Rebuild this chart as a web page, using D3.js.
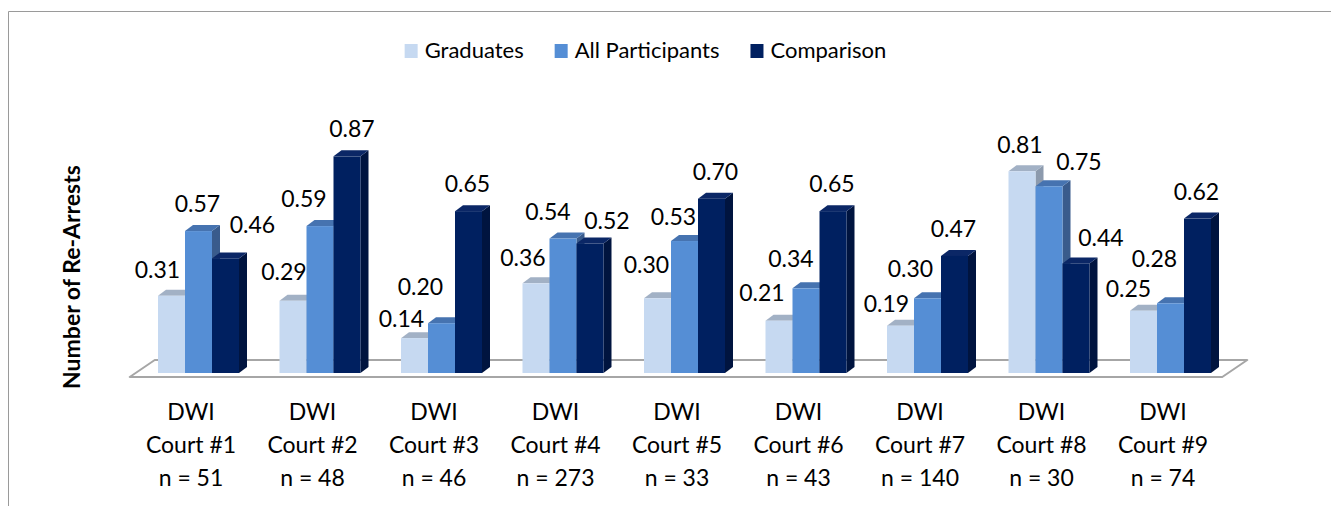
<!DOCTYPE html>
<html lang="en">
<head>
    <meta charset="UTF-8">
    <title>Number of Re-Arrests by DWI Court</title>
    <script src="https://d3js.org/d3.v7.min.js"></script>
    <style>
        body {
            margin: 0;
            background: #ffffff;
        }
        svg {
            display: block;
        }
        text {
            font-family: Lato, "Open Sans", sans-serif;
            fill: #000000;
        }
        .axis-title {
            font-size: 23px;
            font-weight: bold;
        }
        .value-label, .cat-label {
            font-size: 23px;
        }
        .legend-label {
            font-size: 22px;
        }
    </style>
</head>
<body>
    <script>
        // data
        const courts = ["DWI Court #1", "DWI Court #2", "DWI Court #3", "DWI Court #4", "DWI Court #5",
                        "DWI Court #6", "DWI Court #7", "DWI Court #8", "DWI Court #9"];
        const sampleSizes = [51, 48, 46, 273, 33, 43, 140, 30, 74];
        const seriesNames = ["Graduates", "All Participants", "Comparison"];
        const graduates = [0.31, 0.29, 0.14, 0.36, 0.30, 0.21, 0.19, 0.81, 0.25];
        const allParticipants = [0.57, 0.59, 0.20, 0.54, 0.53, 0.34, 0.30, 0.75, 0.28];
        const comparison = [0.46, 0.87, 0.65, 0.52, 0.70, 0.65, 0.47, 0.44, 0.62];

        // label nudges (px) away from the default spot above each bar, as in the original
        const labelNudge = [
            [[-14, 1], [-9, -2], [-13, 8], [-13, 2], [-11, -6], [-17, -1], [-14, 5], [-2, 1], [-15, 5]],
            [[-1, 0], [-16, 0], [-21, -9], [-15, 0], [-11, 3], [-15, -2], [-17, -2], [30, 3], [-16, -17]],
            [[27, -6], [5, 0], [-1, 0], [17, 4], [4, 0], [-1, 0], [-1, 0], [25, 2], [-1, 0]]
        ];

        const width = 1331;
        const height = 506;

        const faces = [
            { front: "#c6d9f1", top: "#a2b1c5", side: "#8c9aad" },
            { front: "#558ed5", top: "#4673b0", side: "#395b8c" },
            { front: "#002060", top: "#0b2766", side: "#00143f" }
        ];
        const depth = { dx: 8, dy: -6 };

        const rows = courts.map((c, i) => ({
            court: c,
            n: sampleSizes[i],
            values: [graduates[i], allParticipants[i], comparison[i]]
        }));

        const svg = d3.select("body").append("svg")
            .attr("width", width)
            .attr("height", height);

        // frame
        svg.append("path")
            .attr("d", `M8.5,${height} L8.5,11.5 L${width},11.5`)
            .attr("fill", "none")
            .attr("stroke", "#9a9a9a")
            .attr("stroke-width", 1);

        const x = d3.scaleBand()
            .domain(courts)
            .range([137.75, 1231.25])
            .paddingInner(1 / 3)
            .paddingOuter(1 / 6);

        const xs = d3.scaleBand()
            .domain(seriesNames)
            .range([0, x.bandwidth()]);

        const y = d3.scaleLinear()
            .domain([0, 1])
            .range([373, 124]);

        // floor
        const [r0, r1] = x.range();
        const base = y(0);
        svg.append("path")
            .attr("d", `M${r0 - 8},${base + 4} L${r1 - 9},${base + 4} L${r1 + 16},${base - 13} L${r0 + 17},${base - 13} Z`)
            .attr("fill", "#ffffff")
            .attr("stroke", "#a6a6a6")
            .attr("stroke-width", 2)
            .attr("stroke-linejoin", "round");

        // bars
        const groups = svg.append("g").selectAll("g")
            .data(rows)
            .join("g")
            .attr("transform", d => `translate(${x(d.court)},0)`);

        const bars = groups.selectAll("g.bar")
            .data(d => d.values.map((v, k) => ({ v, k, s: seriesNames[k] })))
            .join("g")
            .attr("class", "bar");

        bars.each(function (d) {
            const g = d3.select(this);
            const x0 = xs(d.s);
            const x1 = x0 + xs.bandwidth();
            const yt = y(d.v);
            const c = faces[d.k];
            // side
            g.append("path")
                .attr("d", `M${x1},${yt} L${x1 + depth.dx},${yt + depth.dy} L${x1 + depth.dx},${base + depth.dy} L${x1},${base} Z`)
                .attr("fill", c.side);
            // top
            g.append("path")
                .attr("d", `M${x0},${yt} L${x0 + depth.dx},${yt + depth.dy} L${x1 + depth.dx},${yt + depth.dy} L${x1},${yt} Z`)
                .attr("fill", c.top);
            // front
            g.append("rect")
                .attr("x", x0)
                .attr("y", yt)
                .attr("width", xs.bandwidth())
                .attr("height", base - yt)
                .attr("fill", c.front);
        });

        // value labels
        const labels = svg.append("g");
        rows.forEach((row, i) => {
            row.values.forEach((v, k) => {
                const nudge = labelNudge[k][i];
                labels.append("text")
                    .attr("class", "value-label")
                    .attr("text-anchor", "middle")
                    .attr("x", x(row.court) + xs(seriesNames[k]) + xs.bandwidth() / 2 + nudge[0])
                    .attr("y", y(v) - 19 + nudge[1])
                    .text(d3.format(".2f")(v));
            });
        });

        // category labels
        const cx = d => x(d.court) + x.bandwidth() / 2 - 7.5;
        const cat = svg.append("g").selectAll("text")
            .data(rows)
            .join("text")
            .attr("class", "cat-label")
            .attr("text-anchor", "middle")
            .attr("x", cx)
            .attr("y", 420);
        cat.append("tspan")
            .attr("x", cx)
            .text(d => d.court.split(" ")[0]);
        cat.append("tspan")
            .attr("x", cx)
            .attr("dy", 33)
            .text(d => d.court.split(" ").slice(1).join(" "));
        cat.append("tspan")
            .attr("x", cx)
            .attr("dy", 33)
            .text(d => `n = ${d.n}`);

        // y axis title
        svg.append("text")
            .attr("class", "axis-title")
            .attr("text-anchor", "middle")
            .attr("transform", "translate(80,277) rotate(-90)")
            .text("Number of Re-Arrests");

        // legend
        const legend = svg.append("g");
        let lx = 0;
        seriesNames.forEach((name, k) => {
            const item = legend.append("g").attr("transform", `translate(${lx},0)`);
            item.append("rect")
                .attr("x", 0)
                .attr("y", 44)
                .attr("width", 13)
                .attr("height", 14)
                .attr("fill", faces[k].front);
            const t = item.append("text")
                .attr("class", "legend-label")
                .attr("x", 20)
                .attr("y", 58)
                .text(name);
            lx += 20 + t.node().getComputedTextLength() + 31;
        });
        const legendWidth = lx - 31;
        legend.attr("transform", `translate(${645.5 - legendWidth / 2},0)`);
    </script>
</body>
</html>
